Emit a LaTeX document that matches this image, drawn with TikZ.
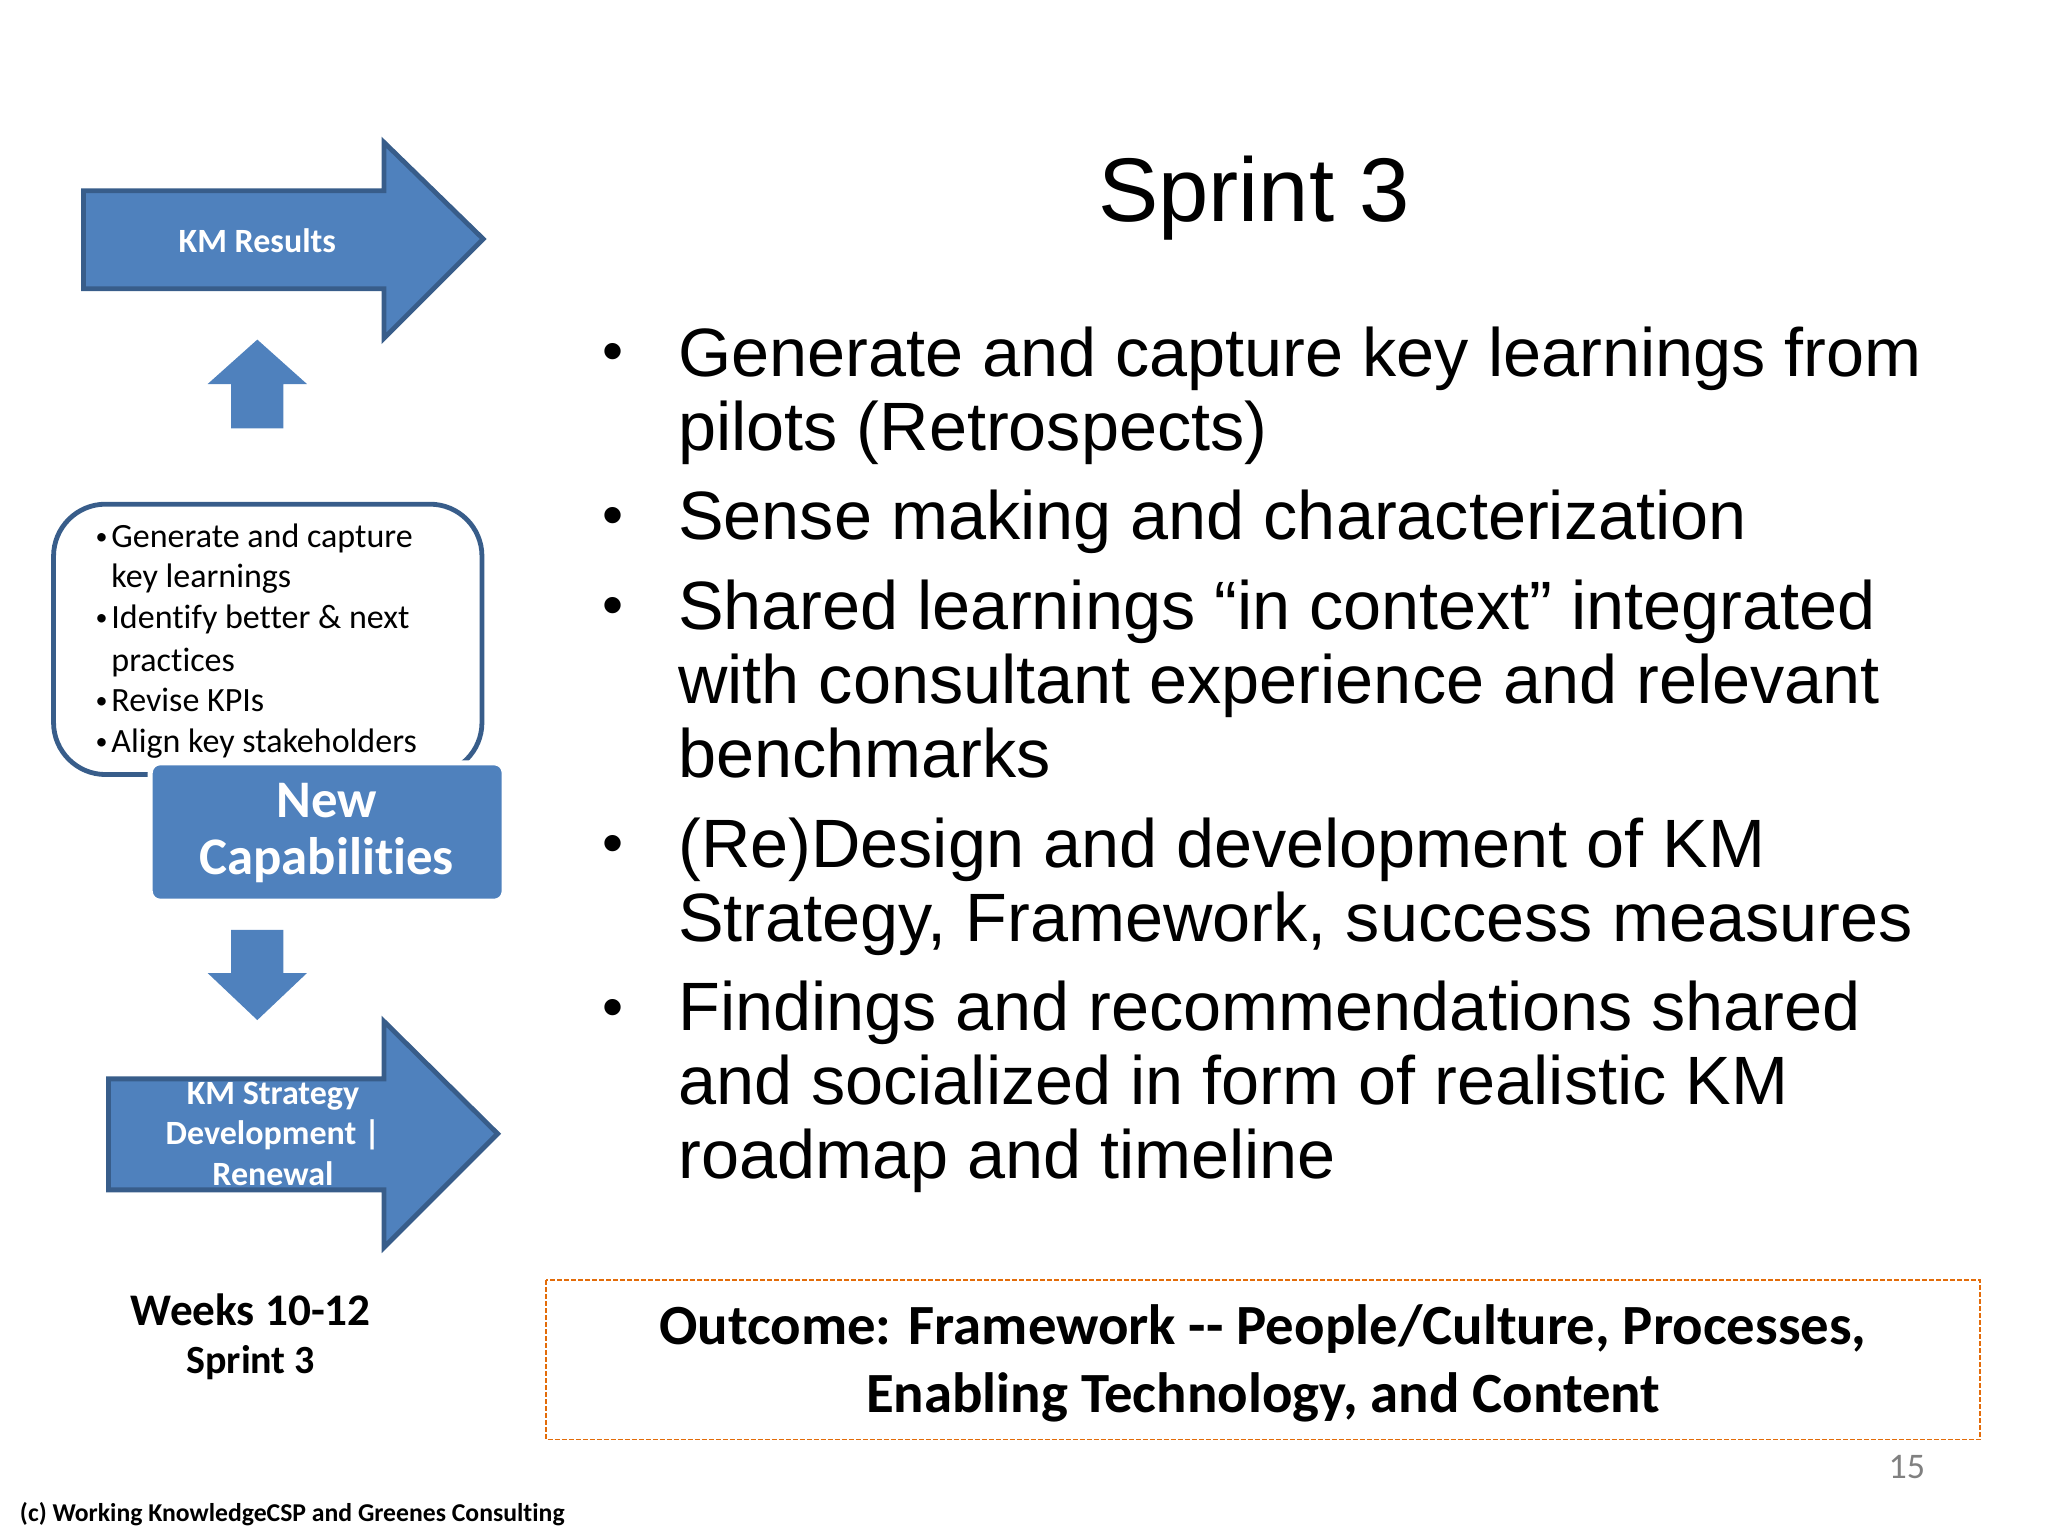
\documentclass[tikz,border=0pt]{standalone}
\usepackage{fontspec}
\setmainfont{Liberation Sans}
\newfontfamily\carlito[Ligatures=NoCommon]{Carlito}
\usetikzlibrary{calc}
\definecolor{kmblue}{HTML}{4F81BD}
\definecolor{kmedge}{HTML}{385D8A}
\definecolor{kmorange}{HTML}{E36C09}
\tikzset{
	blockarrow/.style={fill=kmblue, draw=kmedge, line width=2.4pt, miter limit=10},
	flatarrow/.style={fill=kmblue},
	arrowlabel/.style={inner sep=0, text=white, align=center, font=\carlito\bfseries\fontsize{17}{20.2}\selectfont},
	bodytext/.style={inner sep=0, anchor=north west, align=left, font=\fontsize{34.2}{37}\selectfont},
	bulletmark/.style={inner sep=0, font=\fontsize{30}{37}\selectfont},
	sidetext/.style={inner sep=0, anchor=base west, font=\carlito\fontsize{17}{20}\selectfont},
	sidemark/.style={inner sep=0, anchor=base east, xshift=-1.5pt, yshift=1.5pt, font=\carlito\fontsize{12}{20}\selectfont}
}

\begin{document}
\begin{tikzpicture}[x=0.653pt, y=-0.653pt]
	\useasboundingbox (0,0) rectangle (1568,1176);

	\draw[blockarrow]
		(64,146) -- (294,146) -- (294,109) -- (370,183) -- (294,259) -- (294,221) -- (64,221) -- cycle;
	\fill[flatarrow]
		(197,260) -- (235,294) -- (217,294) -- (217,328) -- (177,328) -- (177,294) -- (159,294) -- cycle;
	\fill[flatarrow]
		(197,781) -- (235,745) -- (217,745) -- (217,712) -- (177,712) -- (177,745) -- (159,745) -- cycle;
	\draw[blockarrow]
		(83,826) -- (294,826) -- (294,782) -- (381,868) -- (294,955) -- (294,911) -- (83,911) -- cycle;

	\draw[draw=kmedge, line width=2.4pt, rounded corners=26pt, fill=white]
		(41,386) rectangle (369,593);
	\draw[fill=kmblue, draw=white, line width=2.5pt, rounded corners=5pt]
		(115,584) rectangle (386,690);

	\draw
		(197,184) node[arrowlabel] (results) {KM Results}
		(250,638) node[arrowlabel, font=\carlito\bfseries\fontsize{26.4}{28.7}\selectfont] (capabilities) {New\\Capabilities}
		(209,868) node[arrowlabel] (strategy) {KM Strategy\\Development |\\Renewal}
		(192,1003) node[inner sep=0, font=\carlito\bfseries\fontsize{22.6}{24}\selectfont] (weeks) {Weeks 10-12}
		(192,1043) node[inner sep=0, font=\carlito\bfseries\fontsize{20}{24}\selectfont] (sprintside) {Sprint 3};

	\draw
		(85,419) node[sidetext] (side1) {Generate and capture}
		(85,450) node[sidetext] (side2) {key learnings}
		(85,481) node[sidetext] (side3) {Identify better \& next}
		(85,514) node[sidetext] (side4) {practices}
		(85,545) node[sidetext] (side5) {Revise KPIs}
		(85,576) node[sidetext] (side6) {Align key stakeholders}
		(side1.base west) node[sidemark] {•}
		(side3.base west) node[sidemark] {•}
		(side5.base west) node[sidemark] {•}
		(side6.base west) node[sidemark] {•};

	\node[inner sep=0, font=\fontsize{45.2}{50}\selectfont] (title) at (960,152) {Sprint 3};

	\draw
		(519,250) node[bodytext] (item1) {Generate and capture key learnings from\\pilots (Retrospects)}
		(519,375) node[bodytext] (item2) {Sense making and characterization}
		(519,444) node[bodytext] (item3) {Shared learnings “in context” integrated\\with consultant experience and relevant\\benchmarks}
		(519,626) node[bodytext] (item4) {(Re)Design and development of KM\\Strategy, Framework, success measures}
		(519,751) node[bodytext] (item5) {Findings and recommendations shared\\and socialized in form of realistic KM\\roadmap and timeline}
		(469,263) node[bulletmark, anchor=north] (dot1) {•}
		(469,388) node[bulletmark, anchor=north] (dot2) {•}
		(469,457) node[bulletmark, anchor=north] (dot3) {•}
		(469,639) node[bulletmark, anchor=north] (dot4) {•}
		(469,765) node[bulletmark, anchor=north] (dot5) {•};

	\draw[draw=kmorange, line width=0.8pt, dash pattern=on 2.5pt off 1pt]
		(418,980) rectangle (1516,1102);
	\draw
		(967,1044) node[inner sep=0, align=center, font=\carlito\bfseries\fontsize{28.4}{34}\selectfont] (outcome) {Outcome: Framework -{}- People/Culture, Processes,\\Enabling Technology, and Content}
		(1460,1123) node[inner sep=0, text=black!50, font=\carlito\fontsize{18}{20}\selectfont] (pagenum) {15}
		(15,1159) node[inner sep=0, anchor=west, font=\carlito\bfseries\fontsize{12.85}{15}\selectfont] (credit) {(c) Working KnowledgeCSP and Greenes Consulting};
\end{tikzpicture}
\end{document}
